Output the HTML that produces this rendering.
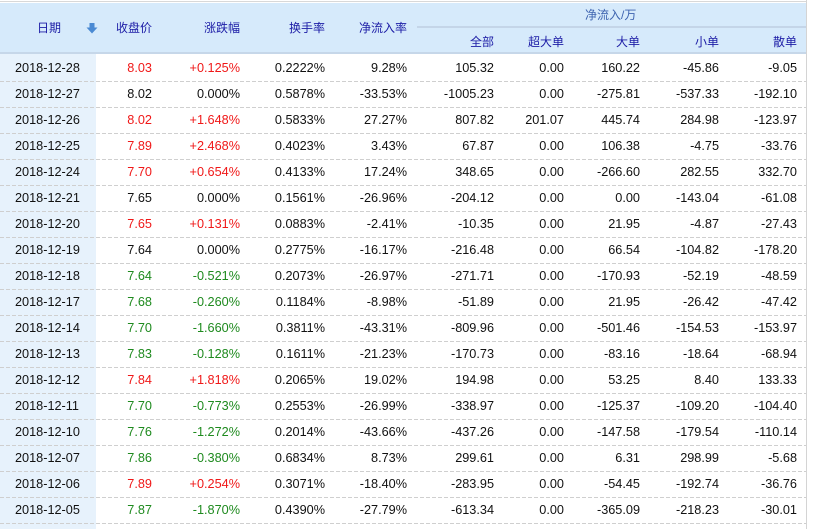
<!DOCTYPE html>
<html><head><meta charset="utf-8">
<style>
*{margin:0;padding:0;box-sizing:border-box}
html,body{width:813px;height:529px;overflow:hidden;background:#fff}
#w{position:relative;width:813px;height:529px;overflow:hidden;background:#fff;font-family:"Liberation Sans","Noto Sans CJK SC",sans-serif}
.a{position:absolute}
.hb{left:0;top:3px;width:806px;height:49px;background:#d6eafb}
.hl{left:0;top:52px;width:806px;height:2px;background:#c6d7e9}
.hm{left:417px;top:26px;width:389px;height:2px;background:#c4d5e8}
.dc{left:0;top:54px;width:96px;height:475px;background:#e7f2fc}
.rv{left:806px;top:0;width:1px;height:529px;background:#d4d4d4}
.tl{left:0;top:1px;width:806px;height:1px;background:#d8d8d8}
.ds{position:absolute;left:0;width:806px;height:1px;background:repeating-linear-gradient(90deg,#cfcfcf 0 4px,transparent 4px 6px)}
.h{position:absolute;font-size:12px;color:#1c1ca6;line-height:16px;white-space:nowrap;text-align:right}
.r{position:absolute;left:0;width:806px;height:26px;font-size:12.7px;line-height:26px;color:#111}
.r span{position:absolute;white-space:nowrap;text-align:right}
.d{left:15px}
.c1{right:654px}.c2{right:566px}.c3{right:481px}.c4{right:399px}.c5{right:312px}.c6{right:242px}.c7{right:166px}.c8{right:87px}.c9{right:9px}
.R{color:#f01818}.G{color:#1e8a1e}
</style></head><body>
<div id="w">
<div class="a tl"></div>
<div class="a hb"></div>
<div class="a hl"></div>
<div class="a hm"></div>
<div class="a dc"></div>
<div class="a rv"></div>

<div class="h" style="left:37px;top:20px">日期</div>
<svg class="a" style="left:86px;top:23px" width="12" height="11" viewBox="0 0 12 11"><rect x="3.5" y="0" width="5" height="5" fill="#4a8ad3"/><polygon points="0.5,4.5 11.5,4.5 6,10.5" fill="#4a8ad3"/></svg>
<div class="h" style="right:661px;top:20px">收盘价</div>
<div class="h" style="right:573px;top:20px">涨跌幅</div>
<div class="h" style="right:488px;top:20px">换手率</div>
<div class="h" style="right:406px;top:20px">净流入率</div>
<div class="h" style="left:585px;top:7px;color:#3e64b0">净流入/万</div>
<div class="h" style="right:319px;top:34px">全部</div>
<div class="h" style="right:249px;top:34px">超大单</div>
<div class="h" style="right:173px;top:34px">大单</div>
<div class="h" style="right:94px;top:34px">小单</div>
<div class="h" style="right:16px;top:34px">散单</div>

<div class="ds" style="top:81px"></div>
<div class="ds" style="top:107px"></div>
<div class="ds" style="top:133px"></div>
<div class="ds" style="top:159px"></div>
<div class="ds" style="top:185px"></div>
<div class="ds" style="top:211px"></div>
<div class="ds" style="top:237px"></div>
<div class="ds" style="top:263px"></div>
<div class="ds" style="top:289px"></div>
<div class="ds" style="top:315px"></div>
<div class="ds" style="top:341px"></div>
<div class="ds" style="top:367px"></div>
<div class="ds" style="top:393px"></div>
<div class="ds" style="top:419px"></div>
<div class="ds" style="top:445px"></div>
<div class="ds" style="top:471px"></div>
<div class="ds" style="top:497px"></div>
<div class="ds" style="top:523px"></div>

<div class="r" style="top:55px"><span class="d">2018-12-28</span><span class="c1 R">8.03</span><span class="c2 R">+0.125%</span><span class="c3">0.2222%</span><span class="c4">9.28%</span><span class="c5">105.32</span><span class="c6">0.00</span><span class="c7">160.22</span><span class="c8">-45.86</span><span class="c9">-9.05</span></div>
<div class="r" style="top:81px"><span class="d">2018-12-27</span><span class="c1">8.02</span><span class="c2">0.000%</span><span class="c3">0.5878%</span><span class="c4">-33.53%</span><span class="c5">-1005.23</span><span class="c6">0.00</span><span class="c7">-275.81</span><span class="c8">-537.33</span><span class="c9">-192.10</span></div>
<div class="r" style="top:107px"><span class="d">2018-12-26</span><span class="c1 R">8.02</span><span class="c2 R">+1.648%</span><span class="c3">0.5833%</span><span class="c4">27.27%</span><span class="c5">807.82</span><span class="c6">201.07</span><span class="c7">445.74</span><span class="c8">284.98</span><span class="c9">-123.97</span></div>
<div class="r" style="top:133px"><span class="d">2018-12-25</span><span class="c1 R">7.89</span><span class="c2 R">+2.468%</span><span class="c3">0.4023%</span><span class="c4">3.43%</span><span class="c5">67.87</span><span class="c6">0.00</span><span class="c7">106.38</span><span class="c8">-4.75</span><span class="c9">-33.76</span></div>
<div class="r" style="top:159px"><span class="d">2018-12-24</span><span class="c1 R">7.70</span><span class="c2 R">+0.654%</span><span class="c3">0.4133%</span><span class="c4">17.24%</span><span class="c5">348.65</span><span class="c6">0.00</span><span class="c7">-266.60</span><span class="c8">282.55</span><span class="c9">332.70</span></div>
<div class="r" style="top:185px"><span class="d">2018-12-21</span><span class="c1">7.65</span><span class="c2">0.000%</span><span class="c3">0.1561%</span><span class="c4">-26.96%</span><span class="c5">-204.12</span><span class="c6">0.00</span><span class="c7">0.00</span><span class="c8">-143.04</span><span class="c9">-61.08</span></div>
<div class="r" style="top:211px"><span class="d">2018-12-20</span><span class="c1 R">7.65</span><span class="c2 R">+0.131%</span><span class="c3">0.0883%</span><span class="c4">-2.41%</span><span class="c5">-10.35</span><span class="c6">0.00</span><span class="c7">21.95</span><span class="c8">-4.87</span><span class="c9">-27.43</span></div>
<div class="r" style="top:237px"><span class="d">2018-12-19</span><span class="c1">7.64</span><span class="c2">0.000%</span><span class="c3">0.2775%</span><span class="c4">-16.17%</span><span class="c5">-216.48</span><span class="c6">0.00</span><span class="c7">66.54</span><span class="c8">-104.82</span><span class="c9">-178.20</span></div>
<div class="r" style="top:263px"><span class="d">2018-12-18</span><span class="c1 G">7.64</span><span class="c2 G">-0.521%</span><span class="c3">0.2073%</span><span class="c4">-26.97%</span><span class="c5">-271.71</span><span class="c6">0.00</span><span class="c7">-170.93</span><span class="c8">-52.19</span><span class="c9">-48.59</span></div>
<div class="r" style="top:289px"><span class="d">2018-12-17</span><span class="c1 G">7.68</span><span class="c2 G">-0.260%</span><span class="c3">0.1184%</span><span class="c4">-8.98%</span><span class="c5">-51.89</span><span class="c6">0.00</span><span class="c7">21.95</span><span class="c8">-26.42</span><span class="c9">-47.42</span></div>
<div class="r" style="top:315px"><span class="d">2018-12-14</span><span class="c1 G">7.70</span><span class="c2 G">-1.660%</span><span class="c3">0.3811%</span><span class="c4">-43.31%</span><span class="c5">-809.96</span><span class="c6">0.00</span><span class="c7">-501.46</span><span class="c8">-154.53</span><span class="c9">-153.97</span></div>
<div class="r" style="top:341px"><span class="d">2018-12-13</span><span class="c1 G">7.83</span><span class="c2 G">-0.128%</span><span class="c3">0.1611%</span><span class="c4">-21.23%</span><span class="c5">-170.73</span><span class="c6">0.00</span><span class="c7">-83.16</span><span class="c8">-18.64</span><span class="c9">-68.94</span></div>
<div class="r" style="top:367px"><span class="d">2018-12-12</span><span class="c1 R">7.84</span><span class="c2 R">+1.818%</span><span class="c3">0.2065%</span><span class="c4">19.02%</span><span class="c5">194.98</span><span class="c6">0.00</span><span class="c7">53.25</span><span class="c8">8.40</span><span class="c9">133.33</span></div>
<div class="r" style="top:393px"><span class="d">2018-12-11</span><span class="c1 G">7.70</span><span class="c2 G">-0.773%</span><span class="c3">0.2553%</span><span class="c4">-26.99%</span><span class="c5">-338.97</span><span class="c6">0.00</span><span class="c7">-125.37</span><span class="c8">-109.20</span><span class="c9">-104.40</span></div>
<div class="r" style="top:419px"><span class="d">2018-12-10</span><span class="c1 G">7.76</span><span class="c2 G">-1.272%</span><span class="c3">0.2014%</span><span class="c4">-43.66%</span><span class="c5">-437.26</span><span class="c6">0.00</span><span class="c7">-147.58</span><span class="c8">-179.54</span><span class="c9">-110.14</span></div>
<div class="r" style="top:445px"><span class="d">2018-12-07</span><span class="c1 G">7.86</span><span class="c2 G">-0.380%</span><span class="c3">0.6834%</span><span class="c4">8.73%</span><span class="c5">299.61</span><span class="c6">0.00</span><span class="c7">6.31</span><span class="c8">298.99</span><span class="c9">-5.68</span></div>
<div class="r" style="top:471px"><span class="d">2018-12-06</span><span class="c1 R">7.89</span><span class="c2 R">+0.254%</span><span class="c3">0.3071%</span><span class="c4">-18.40%</span><span class="c5">-283.95</span><span class="c6">0.00</span><span class="c7">-54.45</span><span class="c8">-192.74</span><span class="c9">-36.76</span></div>
<div class="r" style="top:497px"><span class="d">2018-12-05</span><span class="c1 G">7.87</span><span class="c2 G">-1.870%</span><span class="c3">0.4390%</span><span class="c4">-27.79%</span><span class="c5">-613.34</span><span class="c6">0.00</span><span class="c7">-365.09</span><span class="c8">-218.23</span><span class="c9">-30.01</span></div>
</div>
</body></html>
